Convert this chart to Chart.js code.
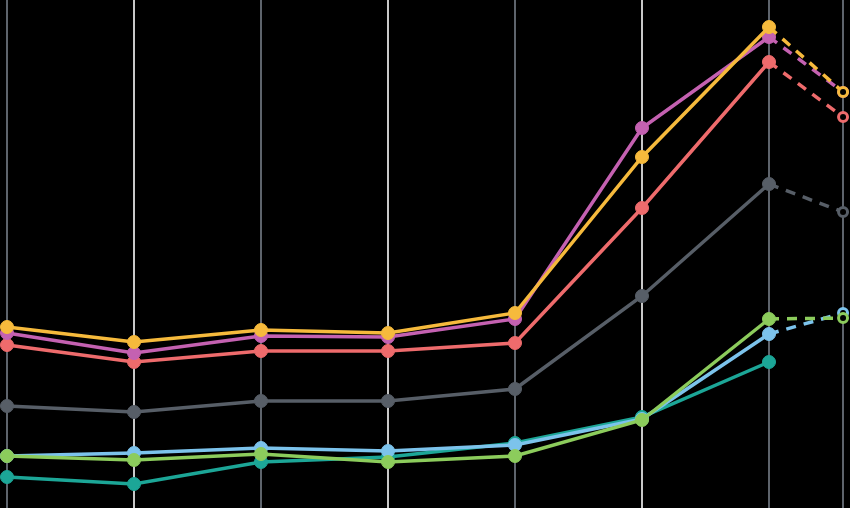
<!DOCTYPE html>
<html>
<head>
<meta charset="utf-8">
<script src="https://cdn.jsdelivr.net/npm/chart.js@4/dist/chart.umd.min.js"></script>
<style>
    html, body { margin: 0; padding: 0; background: #000; }
    #wrap { width: 850px; height: 508px; }
</style>
</head>
<body>
<div id="wrap"><canvas id="Chart"></canvas></div>
<script>
// x positions of the periods (last one is a partial period, projected)
const periods = [0, 1, 2, 3, 4, 5, 6, 6.583];

// series values (height from the bottom edge)
const yellow = [181, 166, 178, 175, 195, 351, 481, 416];
const purple = [175, 155, 172, 171, 189, 380, 471, 416];
const red    = [163, 146, 157, 157, 165, 300, 446, 391];
const gray   = [102, 96, 107, 107, 119, 212, 324, 296];
const green  = [52, 48, 54, 46, 52, 88, 189, 190];
const blue   = [52, 55, 60, 57, 63, 89, 174, 195];
const teal   = [31, 24, 46, 51, 65, 91, 146, null];

const series = [
    { name: 'yellow', values: yellow, color: '#f6ba3c' },
    { name: 'purple', values: purple, color: '#c461b1' },
    { name: 'red',    values: red,    color: '#ee6b6c' },
    { name: 'gray',   values: gray,   color: '#575e67' },
    { name: 'green',  values: green,  color: '#8ccc5c' },
    { name: 'blue',   values: blue,   color: '#7cc3ec' },
    { name: 'teal',   values: teal,   color: '#1ca697' }
];

const lastIndex = periods.length - 1;

const datasets = series.map(s => ({
    label: s.name,
    data: s.values.map((v, i) => ({ x: periods[i], y: v })),
    borderColor: s.color,
    borderWidth: 3.5,
    pointRadius: ctx => ctx.dataIndex === lastIndex ? 4.5 : 6.5,
    pointBorderWidth: ctx => ctx.dataIndex === lastIndex ? 3 : 1,
    pointBorderColor: s.color,
    pointBackgroundColor: ctx => ctx.dataIndex === lastIndex ? '#000' : s.color,
    pointHoverRadius: 6,
    tension: 0,
    fill: false,
    segment: {
        borderDash: ctx => ctx.p1DataIndex === lastIndex ? [10, 8] : undefined
    }
}));

new Chart(document.getElementById('Chart'), {
    type: 'line',
    data: { datasets: datasets },
    options: {
        responsive: true,
        maintainAspectRatio: false,
        animation: false,
        layout: { padding: 0, autoPadding: false },
        plugins: {
            legend: { display: false },
            tooltip: { enabled: false }
        },
        scales: {
            x: {
                type: 'linear',
                min: -7 / 127,
                max: 843 / 127,
                afterBuildTicks: axis => {
                    axis.ticks = periods.map(v => ({ value: v }));
                },
                ticks: { display: false },
                border: { display: false },
                grid: {
                    drawTicks: false,
                    lineWidth: 2,
                    color: ctx => (ctx.index % 2 === 1 && ctx.index < 6) ? '#c8c8c8' : '#5e646c'
                }
            },
            y: {
                display: false,
                min: 0,
                max: 508
            }
        }
    }
});
</script>
</body>
</html>
